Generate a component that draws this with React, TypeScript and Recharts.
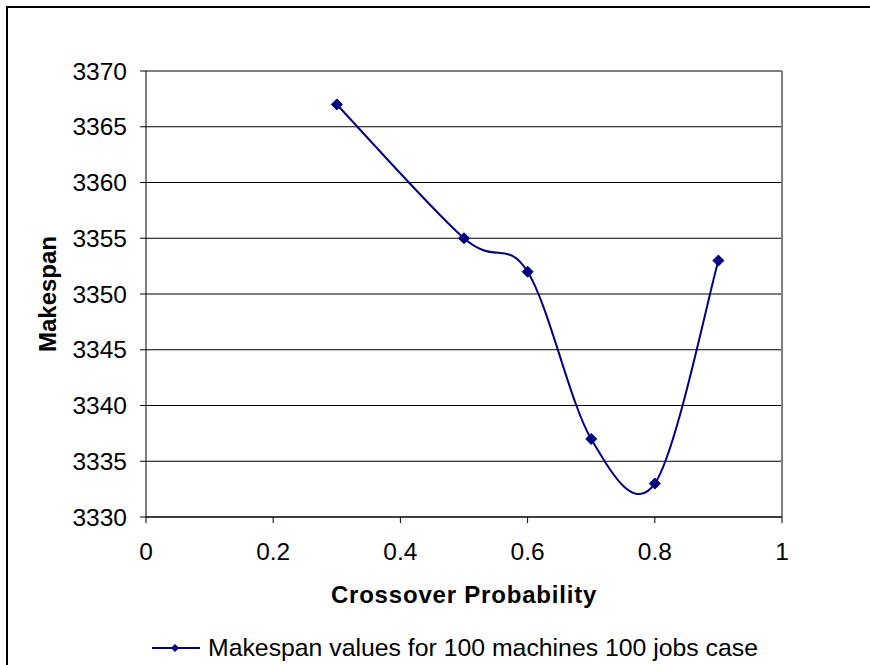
import React from "react"
import { LineChart, Line, XAxis, YAxis, CartesianGrid, ReferenceLine, Legend } from "recharts"

const crossoverProb = [0.3, 0.5, 0.6, 0.7, 0.8, 0.9]
const makespan = [3367, 3355, 3352, 3337, 3333, 3353]
const xTicks = [0, 0.2, 0.4, 0.6, 0.8, 1]
const yTicks = [3330, 3335, 3340, 3345, 3350, 3355, 3360, 3365, 3370]
const seriesName = "Makespan values for 100 machines 100 jobs case"

const data = crossoverProb.map((x, i) => ({ x, y: makespan[i] }))

const FONT = '"Liberation Sans", Arial, sans-serif'
const NAVY = "#000080"

// spreadsheet-style smoothed line (catmull-rom as bezier)
const smoothCurve = (context: any) => {
  let pts: number[][] = []
  return {
    areaStart() {},
    areaEnd() {},
    lineStart() { pts = [] },
    point(x: number, y: number) { pts.push([+x, +y]) },
    lineEnd() {
      if (!pts.length) return
      context.moveTo(pts[0][0], pts[0][1])
      for (let i = 0; i < pts.length - 1; i++) {
        const p0 = pts[Math.max(i - 1, 0)]
        const p1 = pts[i]
        const p2 = pts[i + 1]
        const p3 = pts[Math.min(i + 2, pts.length - 1)]
        context.bezierCurveTo(
          p1[0] + (p2[0] - p0[0]) / 6, p1[1] + (p2[1] - p0[1]) / 6,
          p2[0] - (p3[0] - p1[0]) / 6, p2[1] - (p3[1] - p1[1]) / 6,
          p2[0], p2[1]
        )
      }
    },
  }
}

const Diamond = (props: any) => {
  const { cx, cy, index } = props
  const r = 5.5
  return (
    <polygon
      key={`d-${index}`}
      points={`${cx},${cy - r} ${cx + r},${cy} ${cx},${cy + r} ${cx - r},${cy}`}
      fill={NAVY}
      stroke={NAVY}
    />
  )
}

const LegendBox = (props: any) => {
  const item = props.payload?.[0]
  return (
    <div style={{ display: "flex", alignItems: "center", height: 28, marginLeft: 152, fontFamily: FONT, fontSize: 24.8, lineHeight: "28px", color: "#000" }}>
      <svg width={48} height={12} style={{ display: "block" }}>
        <line x1={0} y1={6} x2={48} y2={6} stroke={NAVY} strokeWidth={2} />
        <polygon points="23,2 27,6 23,10 19,6" fill={NAVY} />
      </svg>
      <span style={{ marginLeft: 8, whiteSpace: "nowrap" }}>{item ? item.value : seriesName}</span>
    </div>
  )
}

export default function App() {
  return (
    <div style={{ position: "absolute", left: 0, top: 0, width: 870, height: 665, overflow: "hidden", background: "#fff" }}>
      <div style={{ position: "absolute", left: 6, top: 6, width: 1000, height: 1000, border: "2px solid #000" }} />
      <LineChart
        width={870}
        height={665}
        data={data}
        margin={{ top: 71, right: 88, left: 66, bottom: 48 }}
        style={{ fontFamily: FONT }}
      >
        <CartesianGrid vertical={false} stroke="#000" strokeWidth={1.2} strokeDasharray="" />
        <XAxis
          dataKey="x"
          type="number"
          domain={[0, 1]}
          ticks={xTicks}
          height={100}
          tickSize={6}
          tickMargin={20}
          stroke="#000"
          tick={{ fill: "#000", fontSize: 24.5, fontFamily: FONT }}
          tickFormatter={(v) => String(v)}
          label={{
            content: ({ viewBox }: any) => (
              <text
                x={viewBox.x + viewBox.width / 2}
                y={viewBox.y + 86}
                textAnchor="middle"
                fontFamily={FONT}
                fontSize={24}
                fontWeight="bold"
                letterSpacing={0.8}
                fill="#000"
              >
                Crossover Probability
              </text>
            ),
          }}
        />
        <YAxis
          type="number"
          domain={[3330, 3370]}
          ticks={yTicks}
          width={80}
          tickSize={6}
          tickMargin={13}
          stroke="#000"
          tick={{ fill: "#000", fontSize: 24.5, fontFamily: FONT }}
          label={{
            content: ({ viewBox }: any) => {
              const cx = 56
              const cy = viewBox.y + viewBox.height / 2
              return (
                <text
                  x={cx}
                  y={cy}
                  transform={`rotate(-90 ${cx} ${cy})`}
                  textAnchor="middle"
                  fontFamily={FONT}
                  fontSize={24}
                  fontWeight="bold"
                  fill="#000"
                >
                  Makespan
                </text>
              )
            },
          }}
        />
        <ReferenceLine y={3370} stroke="#808080" strokeWidth={2} />
        <ReferenceLine x={1} stroke="#808080" strokeWidth={2} />
        <Legend
          layout="horizontal"
          verticalAlign="middle"
          align="center"
          wrapperStyle={{ left: 0, top: 634, width: 870 }}
          content={<LegendBox />}
        />
        <Line
          name={seriesName}
          dataKey="y"
          type={smoothCurve as any}
          stroke={NAVY}
          strokeWidth={2}
          dot={Diamond}
          activeDot={false}
          isAnimationActive={false}
        />
      </LineChart>
    </div>
  )
}
